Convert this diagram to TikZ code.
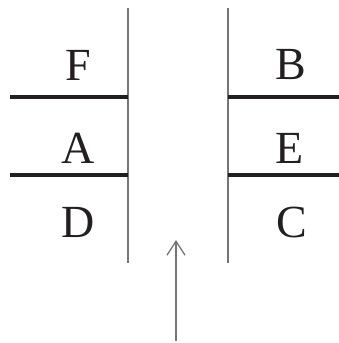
\documentclass[tikz,border=0pt]{standalone}
\usepackage{fontspec}
\setmainfont{Liberation Serif}
\usetikzlibrary{arrows.meta}
\definecolor{cink}{RGB}{35,31,32}
\definecolor{cwall}{RGB}{120,116,114}
\tikzset{slot/.style={x=1pt,y=-1pt,font=\fontsize{46}{50}\selectfont},
  plate/.style={cink,line width=4.6pt},
  wall/.style={cwall,line width=1.3pt},
  letter/.style={cink,inner sep=0pt}}

\begin{document}
\begin{tikzpicture}[slot]
    \useasboundingbox (0,0) rectangle (339,343);
    \def\yone{97}\def\ytwo{175}
    \coordinate (lt) at (128,8); \coordinate (lb) at (128,263); % left wall
    \coordinate (rt) at (228,8); \coordinate (rb) at (228,263); % right wall
    \draw[wall] (lt) -- (lb);
    \draw[wall] (rt) -- (rb);
    \foreach \y [count=\i] in {\yone,\ytwo} {
      \coordinate (l\i) at (10,\y); \coordinate (L\i) at (128,\y);
      \coordinate (r\i) at (228,\y); \coordinate (R\i) at (339,\y);
      \draw[plate] (l\i) -- (L\i); % left plates
      \draw[plate] (r\i) -- (R\i); % right plates
    }
    \node[letter] (F) at (78,65) {F};
    \node[letter] (A) at (78,148) {A};
    \node[letter] (D) at (78,222) {D};
    \node[letter] (B) at (291,65) {B};
    \node[letter] (E) at (290,148) {E};
    \node[letter] (C) at (292,222) {C};
    % incoming arrow
    \coordinate (a0) at (176,341); \coordinate (a1) at (176,240);
    \draw[cwall,line width=1.3pt,-{Straight Barb[length=14pt,width=18pt]}] (a0) -- (a1);
\end{tikzpicture}
\end{document}
